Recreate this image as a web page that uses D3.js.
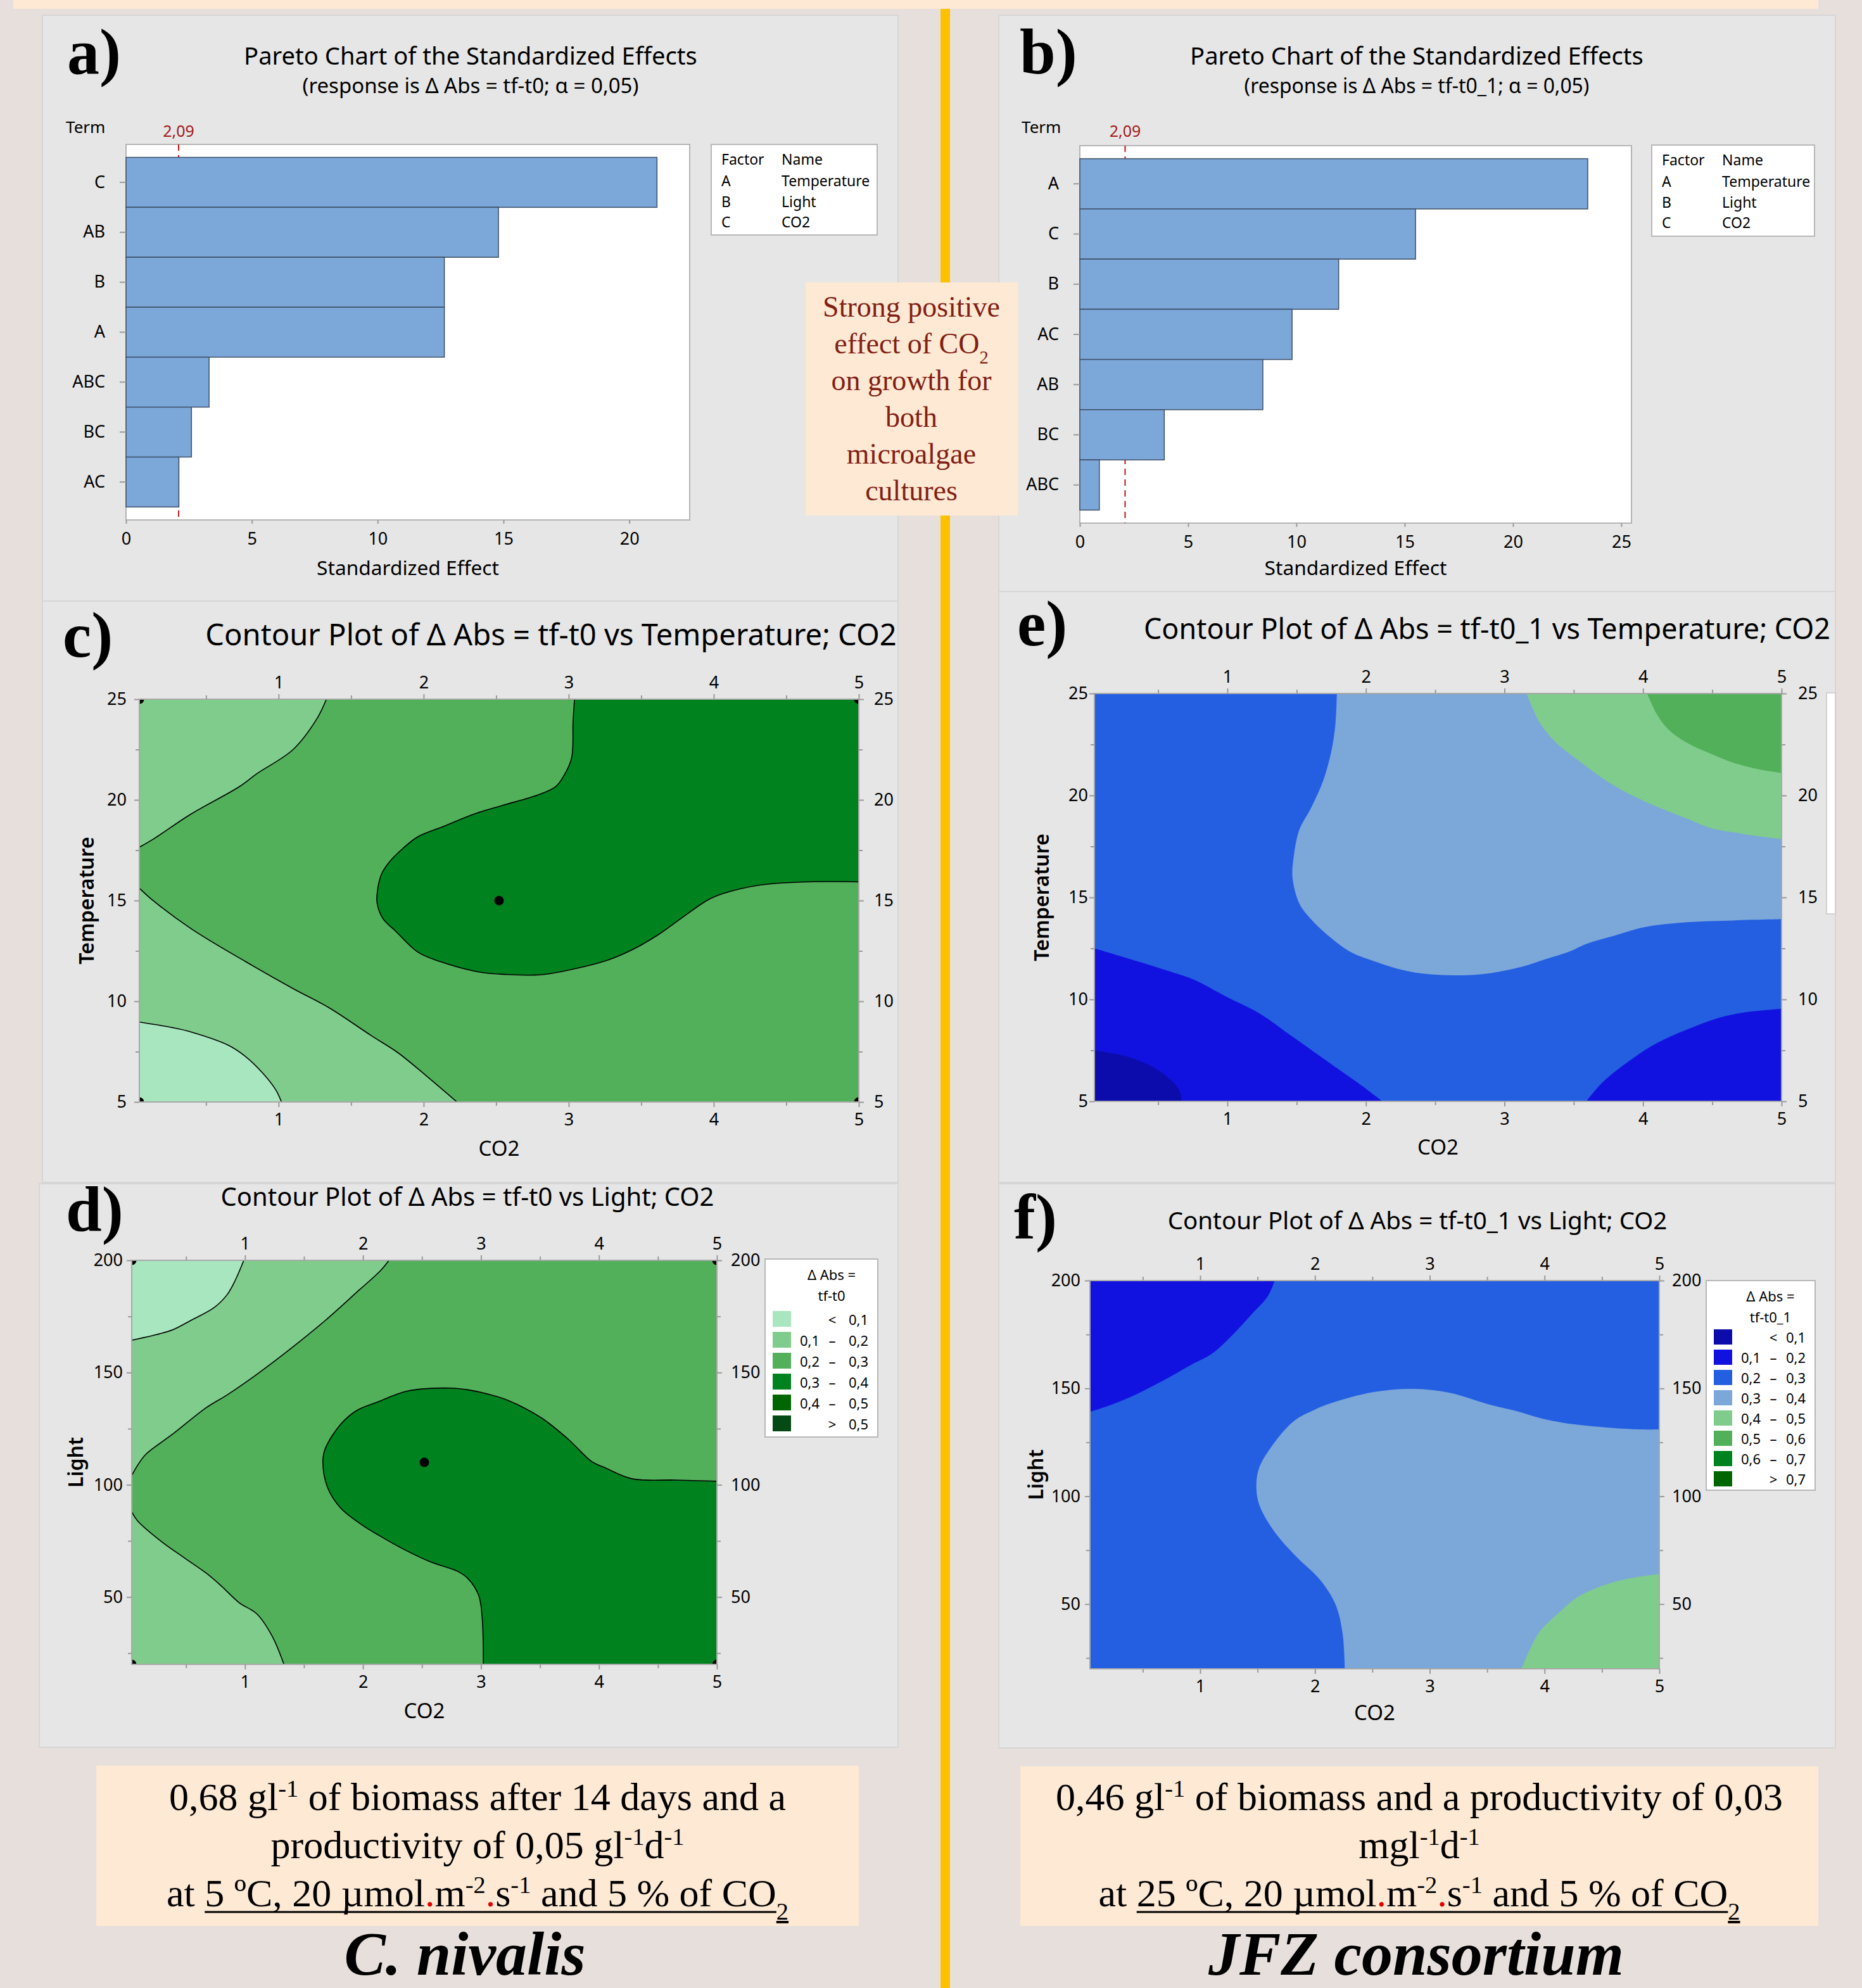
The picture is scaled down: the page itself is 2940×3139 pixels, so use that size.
<!DOCTYPE html>
<html>
<head>
<meta charset="utf-8">
<script src="https://cdn.jsdelivr.net/npm/d3@7"></script>
<style>
  body { margin: 0; background: #e7dfdc; }
  svg { display: block; }
</style>
</head>
<body>
<svg id="fig" width="2940" height="3139"></svg>
<script>
// ---------- data ----------
const critEffect = 2.09;
const factorCodes = ['A', 'B', 'C'];
const factorNames = ['Temperature', 'Light', 'CO2'];

// Pareto a) response tf-t0
const termsA = ['C', 'AB', 'B', 'A', 'ABC', 'BC', 'AC'];
const effectsA = [21.1, 14.8, 12.65, 12.65, 3.3, 2.6, 2.1];
const ticksA = [0, 5, 10, 15, 20];
// Pareto b) response tf-t0_1
const termsB = ['A', 'C', 'B', 'AC', 'AB', 'BC', 'ABC'];
const effectsB = [23.45, 15.5, 11.95, 9.8, 8.45, 3.9, 0.9];
const ticksB = [0, 5, 10, 15, 20, 25];

// contour axes
const co2Range = [0.04, 5];
const tempRange = [5, 25];
const lightRange = [20, 200];
const co2Ticks = [1, 2, 3, 4, 5];
const co2Minor = [0.5, 1.5, 2.5, 3.5, 4.5];
const tempTicks = [5, 10, 15, 20, 25];
const tempMinor = [7.5, 12.5, 17.5, 22.5];
const lightTicks = [50, 100, 150, 200];
const lightMinor = [25, 75, 125, 175];

// legend bins
const greenBins = [[null, 0.1], [0.1, 0.2], [0.2, 0.3], [0.3, 0.4], [0.4, 0.5], [0.5, null]];
const blueBins = [[null, 0.1], [0.1, 0.2], [0.2, 0.3], [0.3, 0.4], [0.4, 0.5], [0.5, 0.6], [0.6, 0.7], [0.7, null]];

// c) tf-t0 vs Temperature; CO2   points are [CO2, Temperature]
const cLine01 = [[0.04, 8.97], [0.27, 8.69], [0.40, 8.47], [0.65, 7.83], [0.77, 7.27], [0.89, 6.44], [0.98, 5.61], [1.02, 5]];
const cLine02Top = [[1.33, 25], [1.26, 23.98], [1.10, 22.5], [0.85, 21.3], [0.73, 20.66], [0.39, 19.27], [0.14, 18.07], [0.04, 17.65]];
const cLine02Bot = [[0.04, 15.62], [0.14, 14.97], [0.40, 13.59], [0.77, 11.98], [1.10, 10.63], [1.35, 9.67], [1.64, 8.29], [1.82, 7.46], [2.01, 6.35], [2.23, 5]];
const cLine03 = [[3.04, 25], [3.03, 23.89], [3.02, 22.08], [2.96, 21.12], [2.91, 20.66], [2.79, 20.25], [2.54, 19.72], [2.34, 19.28], [2.15, 18.72], [1.96, 18.17], [1.86, 17.61], [1.77, 16.97], [1.71, 16.32], [1.68, 15.4], [1.68, 14.84], [1.72, 14.1], [1.81, 13.46], [1.96, 12.44], [2.11, 11.98], [2.40, 11.43], [2.58, 11.33], [2.77, 11.3], [2.87, 11.37], [3.04, 11.61], [3.26, 12.02], [3.43, 12.53], [3.61, 13.27], [3.78, 14.14], [3.96, 15.03], [4.07, 15.36], [4.32, 15.77], [4.65, 15.93], [5, 15.93]];
const cPoints = [[0.04, 5], [0.04, 25], [5, 5], [5, 25], [2.52, 15]];

// e) tf-t0_1 vs Temperature; CO2
const eLine01 = [[0.04, 7.5], [0.29, 7.17], [0.51, 6.49], [0.65, 5.58], [0.67, 5]];
const eLine02Left = [[0.04, 12.5], [0.35, 11.87], [0.63, 11.27], [0.76, 10.96], [0.99, 10.14], [1.23, 9.32], [1.46, 8.22], [1.63, 7.4], [1.82, 6.49], [1.97, 5.77], [2.12, 5]];
const eLine02Right = [[3.59, 5], [3.71, 5.95], [3.95, 7.22], [4.10, 7.86], [4.31, 8.5], [4.52, 9.04], [4.69, 9.32], [5, 9.54]];
const eLine03 = [[1.79, 25], [1.78, 23.52], [1.75, 22.16], [1.69, 20.7], [1.60, 19.34], [1.52, 18.33], [1.48, 17.06], [1.47, 15.97], [1.52, 14.69], [1.60, 13.96], [1.71, 13.23], [1.89, 12.32], [2.06, 11.87], [2.23, 11.5], [2.40, 11.27], [2.57, 11.19], [2.74, 11.19], [2.91, 11.3], [3.12, 11.59], [3.29, 11.96], [3.46, 12.32], [3.59, 12.72], [3.80, 13.14], [4.01, 13.54], [4.31, 13.78], [4.65, 13.87], [5, 13.94]];
const eLine04 = [[3.16, 25], [3.25, 23.62], [3.37, 22.61], [3.59, 21.43], [3.76, 20.61], [3.93, 19.97], [4.14, 19.34], [4.31, 18.88], [4.48, 18.42], [4.69, 18.15], [4.86, 17.97], [5, 17.86]];
const eLine05 = [[4.03, 25], [4.10, 23.98], [4.18, 23.25], [4.31, 22.61], [4.48, 22.07], [4.65, 21.61], [4.86, 21.25], [5, 21.1]];

// d) tf-t0 vs Light; CO2   points are [CO2, Light]
const dLine01 = [[0.99, 200], [0.92, 191.4], [0.85, 184.8], [0.74, 179], [0.54, 173.2], [0.39, 169.1], [0.25, 166.9], [0.04, 164.4]];
const dLine02Top = [[2.22, 200], [2.15, 195.5], [1.96, 186.4], [1.68, 173.2], [1.41, 161.6], [1.10, 149.2], [0.85, 140.1], [0.67, 134.3], [0.39, 122.7], [0.16, 113.6], [0.09, 108.7], [0.04, 104.1]];
const dLine02Bot = [[0.04, 88], [0.09, 83.9], [0.27, 75.6], [0.49, 67.3], [0.67, 60.7], [0.80, 54.9], [0.95, 47.5], [1.10, 42.5], [1.23, 32.6], [1.33, 20]];
const dLine03 = [[3.02, 20], [3.01, 40.9], [2.98, 50.8], [2.89, 58.2], [2.80, 61.5], [2.57, 65.7], [2.37, 70.6], [2.17, 76.4], [1.99, 82.2], [1.81, 89.7], [1.70, 98.8], [1.66, 110.3], [1.68, 116.1], [1.81, 126.9], [1.95, 133.2], [2.12, 136.8], [2.38, 141.8], [2.75, 143.1], [2.88, 142.4], [3.08, 140.1], [3.23, 137.6], [3.51, 129.9], [3.74, 120.3], [3.94, 110.3], [4.04, 107.9], [4.28, 102.7], [4.65, 102.1], [5, 101.6]];
const dPoints = [[0.04, 20], [0.04, 200], [5, 20], [5, 200], [2.52, 110]];

// f) tf-t0_1 vs Light; CO2
const fLine02 = [[1.65, 200], [1.59, 192.8], [1.46, 185], [1.28, 174.7], [1.10, 166], [0.92, 160.9], [0.69, 154], [0.40, 146.2], [0.20, 141.9], [0.04, 139.1]];
const fLine03 = [[2.26, 20], [2.24, 36.7], [2.18, 49.7], [2.05, 60.9], [1.82, 72.9], [1.64, 84.1], [1.52, 95.3], [1.49, 103.1], [1.51, 112.6], [1.62, 122.9], [1.82, 135], [2.00, 140.2], [2.15, 143.3], [2.51, 148.3], [2.86, 149.8], [3.18, 147.9], [3.54, 142.2], [3.77, 139.3], [3.95, 136.4], [4.16, 134.1], [4.54, 131.9], [4.83, 131], [5, 131]];
const fLine04 = [[3.80, 20], [3.85, 26.4], [3.95, 36.7], [4.11, 45.3], [4.31, 54], [4.65, 60.9], [5, 63.9]];

// ---------- styles ----------
const SANS = "'Noto Sans', 'Open Sans', sans-serif";
const SERIF = "'Liberation Serif', 'DejaVu Serif', serif";
const greenColors = ['#a8e6bf', '#80cc8c', '#52b05b', '#00821e', '#006600', '#044a14'];
const blueColors = ['#0c0cad', '#1212e0', '#245fe1', '#7ca7d9', '#80cc8c', '#52b05b', '#00821e', '#006600'];
const PANEL = '#e6e6e6';
const PEACH = '#fde9d4';

const svg = d3.select('#fig');
const fmt = v => d3.format('.1f')(v).replace('.', ',');
const fmt2 = v => d3.format('.2f')(v).replace('.', ',');

function fitText(t, w) {
  const len = t.node().getComputedTextLength();
  t.attr('font-size', (+t.attr('font-size')) * w / len);
  return t;
}
function txt(g, x, y, s, size, opts = {}) {
  const t = g.append('text').attr('x', x).attr('y', y).text(s)
    .attr('font-size', size).attr('font-family', opts.family || SANS)
    .attr('fill', opts.fill || '#000').attr('text-anchor', opts.anchor || 'start');
  if (opts.weight) t.attr('font-weight', opts.weight);
  if (opts.style) t.attr('font-style', opts.style);
  if (opts.width) fitText(t, opts.width);
  return t;
}

// ---------- background layout ----------
svg.append('rect').attr('width', 2940).attr('height', 3139).attr('fill', '#e7dfdc');
svg.append('rect').attr('x', 1485).attr('y', 0).attr('width', 15).attr('height', 3139).attr('fill', '#ffc000');
svg.append('rect').attr('x', 21).attr('y', 0).attr('width', 2850).attr('height', 14).attr('fill', PEACH);
[[67, 24, 1351, 925], [67, 949, 1351, 918], [62, 1869, 1356, 890],
 [1577, 24, 1321, 910], [1577, 934, 1321, 933], [1577, 1869, 1321, 891]].forEach(p => {
  svg.append('rect').attr('x', p[0]).attr('y', p[1]).attr('width', p[2]).attr('height', p[3])
    .attr('fill', PANEL).attr('stroke', '#d6d6d6').attr('stroke-width', 2);
});

// panel letters
[['a)', 106, 116], ['b)', 1610, 116], ['c)', 99, 1037], ['e)', 1606, 1019], ['d)', 104, 1944], ['f)', 1601, 1956]]
  .forEach(l => txt(svg, l[1], l[2], l[0], 102, { family: SERIF, weight: 'bold' }));

// ---------- Pareto charts ----------
function pareto(o) {
  const g = svg.append('g');
  const x = d3.scaleLinear().domain([0, o.xMax]).range([o.x0, o.x1]);
  const y = d3.scaleBand().domain(o.terms).range([o.y0, o.y1]).paddingInner(0).paddingOuter(0.26);
  g.append('rect').attr('x', o.x0).attr('y', o.y0).attr('width', o.x1 - o.x0).attr('height', o.y1 - o.y0)
    .attr('fill', '#fff').attr('stroke', '#b4b4b4').attr('stroke-width', 2);
  g.append('line').attr('x1', x(critEffect)).attr('x2', x(critEffect)).attr('y1', o.y0).attr('y2', o.y1)
    .attr('stroke', '#c0161c').attr('stroke-width', 2).attr('stroke-dasharray', '10,7');
  g.selectAll('rect.bar').data(o.terms.map((t, i) => ({ t, v: o.effects[i] }))).join('rect').attr('class', 'bar')
    .attr('x', x(0)).attr('y', d => y(d.t)).attr('width', d => x(d.v) - x(0)).attr('height', y.bandwidth())
    .attr('fill', '#7ba7d9').attr('stroke', '#3e4f66').attr('stroke-width', 1.5);
  const ax = g.append('g').attr('transform', `translate(0,${o.y1})`)
    .call(d3.axisBottom(x).tickValues(o.ticks).tickSize(6).tickPadding(14));
  const ay = g.append('g').attr('transform', `translate(${o.x0},0)`)
    .call(d3.axisLeft(y).tickSize(10).tickPadding(23));
  [ax, ay].forEach(a => {
    a.select('.domain').remove();
    a.selectAll('line').attr('stroke', '#9a9a9a').attr('stroke-width', 2);
    a.selectAll('text').attr('font-size', 27).attr('font-family', SANS).attr('fill', '#000');
  });
  txt(g, o.termX, 210, 'Term', 26);
  txt(g, x(critEffect), 216, fmt2(critEffect), 25, { anchor: 'middle', fill: '#a31b1b' });
  txt(g, o.titleX, 102, 'Pareto Chart of the Standardized Effects', 40, { anchor: 'middle', width: 716 });
  txt(g, o.titleX, 147, o.subtitle, 32, { anchor: 'middle', width: o.subW });
  txt(g, (o.x0 + o.x1) / 2, 908, 'Standardized Effect', 34, { anchor: 'middle', width: 288 });
  // factor legend
  const L = o.legend;
  g.append('rect').attr('x', L[0]).attr('y', L[1]).attr('width', L[2]).attr('height', L[3])
    .attr('fill', '#fff').attr('stroke', '#b8b8b8').attr('stroke-width', 2);
  txt(g, L[0] + 16, L[1] + 32, 'Factor', 23);
  txt(g, L[0] + 111, L[1] + 32, 'Name', 23);
  factorCodes.forEach((c, i) => {
    txt(g, L[0] + 16, L[1] + 66 + i * 32.5, c, 23);
    txt(g, L[0] + 111, L[1] + 66 + i * 32.5, factorNames[i], 23);
  });
}
pareto({ terms: termsA, effects: effectsA, ticks: ticksA, xMax: 22.4, x0: 199, x1: 1089, y0: 228, y1: 821,
  termX: 104, titleX: 743, subtitle: '(response is \u0394 Abs = tf-t0; \u03b1 = 0,05)', subW: 531,
  legend: [1123, 228, 262, 143] });
pareto({ terms: termsB, effects: effectsB, ticks: ticksB, xMax: 25.47, x0: 1705, x1: 2576, y0: 230, y1: 826,
  termX: 1613, titleX: 2237, subtitle: '(response is \u0394 Abs = tf-t0_1; \u03b1 = 0,05)', subW: 545,
  legend: [2608, 229, 257, 144] });

// ---------- contour plots ----------
function contourPanel(o) {
  const g = svg.append('g');
  const x = d3.scaleLinear().domain(co2Range).range([o.x0, o.x1]);
  const y = d3.scaleLinear().domain(o.yRange).range([o.y1, o.y0]);
  const id = 'clip-' + o.key;
  svg.append('clipPath').attr('id', id).append('rect')
    .attr('x', o.x0).attr('y', o.y0).attr('width', o.x1 - o.x0).attr('height', o.y1 - o.y0);
  const p = g.append('g').attr('clip-path', `url(#${id})`);
  p.append('rect').attr('x', o.x0).attr('y', o.y0).attr('width', o.x1 - o.x0).attr('height', o.y1 - o.y0)
    .attr('fill', o.colors[o.base]);
  const line = d3.line().x(d => x(d[0])).y(d => y(d[1])).curve(d3.curveCatmullRom.alpha(0.5));
  o.regions.forEach(r => {
    p.append('path')
      .attr('d', line(r.pts) + r.corners.map(c => `L${x(c[0])},${y(c[1])}`).join('') + 'Z')
      .attr('fill', o.colors[r.lvl]);
  });
  if (o.lines) {
    o.regions.forEach(r => p.append('path').attr('d', line(r.pts))
      .attr('fill', 'none').attr('stroke', '#000').attr('stroke-width', 1.6));
  }
  if (o.points) {
    p.selectAll('circle').data(o.points).join('circle')
      .attr('cx', d => x(d[0])).attr('cy', d => y(d[1])).attr('r', 7.5).attr('fill', '#000');
  }
  g.append('rect').attr('x', o.x0).attr('y', o.y0).attr('width', o.x1 - o.x0).attr('height', o.y1 - o.y0)
    .attr('fill', 'none').attr('stroke', '#a8a8a8').attr('stroke-width', 2);

  const sides = [
    [d3.axisTop, x, co2Ticks, co2Minor, `translate(0,${o.y0})`, 9],
    [d3.axisBottom, x, co2Ticks, co2Minor, `translate(0,${o.y1})`, 10],
    [d3.axisLeft, y, o.yTicks, o.yMinor, `translate(${o.x0},0)`, o.padL],
    [d3.axisRight, y, o.yTicks, o.yMinor, `translate(${o.x1},0)`, o.padR]
  ];
  sides.forEach(s => {
    const a = g.append('g').attr('transform', s[4])
      .call(s[0](s[1]).tickValues(s[2]).tickFormat(d3.format('d')).tickSize(8).tickPadding(s[5]));
    const m = g.append('g').attr('transform', s[4])
      .call(s[0](s[1]).tickValues(s[3]).tickSize(6).tickFormat(''));
    [a, m].forEach(k => {
      k.select('.domain').remove();
      k.selectAll('line').attr('stroke', '#9a9a9a').attr('stroke-width', 2);
    });
    a.selectAll('text').attr('font-size', 27).attr('font-family', SANS).attr('fill', '#000');
  });
  txt(g, o.titleX, o.titleY, o.title, 42, { anchor: 'middle', width: o.titleW });
  txt(g, (o.x0 + o.x1) / 2, o.xLabY, 'CO2', 33, { anchor: 'middle' });
  txt(g, 0, 0, o.yLabel, 32, { anchor: 'middle', weight: 600 })
    .attr('transform', `translate(${o.yLabX},${(o.y0 + o.y1) / 2}) rotate(-90)`);
}

function contourLegend(o) {
  const g = svg.append('g');
  g.append('rect').attr('x', o.x).attr('y', o.y).attr('width', o.w).attr('height', o.h)
    .attr('fill', '#fff').attr('stroke', '#b8b8b8').attr('stroke-width', 2);
  const cx = o.x + o.w * 0.59;
  txt(g, cx, o.y + 33, '\u0394 Abs =', 22, { anchor: 'middle' });
  txt(g, cx, o.y + 66, o.resp, 22, { anchor: 'middle' });
  o.bins.forEach((b, i) => {
    const ty = o.rowTop + i * o.step;
    g.append('rect').attr('x', o.x + 12).attr('y', ty).attr('width', 29).attr('height', o.step - 8)
      .attr('fill', o.colors[i]);
    const by = ty + o.step * 0.66;
    if (b[0] === null) {
      txt(g, o.x + 106, by, '<', 22, { anchor: 'middle' });
    } else if (b[1] === null) {
      txt(g, o.x + 106, by, '>', 22, { anchor: 'middle' });
    } else {
      txt(g, o.x + 86, by, fmt(b[0]), 22, { anchor: 'end' });
      txt(g, o.x + 106, by, '\u2013', 22, { anchor: 'middle' });
    }
    txt(g, o.x + o.w - 15, by, fmt(b[1] === null ? b[0] : b[1]), 22, { anchor: 'end' });
  });
}

contourPanel({ key: 'c', x0: 220, x1: 1356, y0: 1104, y1: 1740, yRange: tempRange,
  yTicks: tempTicks, yMinor: tempMinor, padL: 12, padR: 16, colors: greenColors, base: 2, lines: true,
  regions: [
    { lvl: 1, pts: cLine02Top, corners: [[co2Range[0], tempRange[1]]] },
    { lvl: 1, pts: cLine02Bot, corners: [[co2Range[0], tempRange[0]]] },
    { lvl: 0, pts: cLine01, corners: [[co2Range[0], tempRange[0]]] },
    { lvl: 3, pts: cLine03, corners: [[co2Range[1], tempRange[1]]] }
  ],
  points: cPoints,
  title: 'Contour Plot of \u0394 Abs = tf-t0 vs Temperature; CO2', titleX: 870, titleY: 1019, titleW: 1092,
  xLabY: 1825, yLabel: 'Temperature', yLabX: 148 });

contourPanel({ key: 'e', x0: 1728, x1: 2813, y0: 1095, y1: 1739, yRange: tempRange,
  yTicks: tempTicks, yMinor: tempMinor, padL: 2, padR: 18, colors: blueColors, base: 2, lines: false,
  regions: [
    { lvl: 3, pts: eLine03, corners: [[co2Range[1], tempRange[1]]] },
    { lvl: 4, pts: eLine04, corners: [[co2Range[1], tempRange[1]]] },
    { lvl: 5, pts: eLine05, corners: [[co2Range[1], tempRange[1]]] },
    { lvl: 1, pts: eLine02Left, corners: [[co2Range[0], tempRange[0]]] },
    { lvl: 0, pts: eLine01, corners: [[co2Range[0], tempRange[0]]] },
    { lvl: 1, pts: eLine02Right, corners: [[co2Range[1], tempRange[0]]] }
  ],
  title: 'Contour Plot of \u0394 Abs = tf-t0_1 vs Temperature; CO2', titleX: 2348, titleY: 1009, titleW: 1084,
  xLabY: 1823, yLabel: 'Temperature', yLabX: 1656 });
svg.append('rect').attr('x', 2884).attr('y', 1094).attr('width', 14).attr('height', 349)
  .attr('fill', '#fff').attr('stroke', '#c8c8c8').attr('stroke-width', 1.5);

contourPanel({ key: 'd', x0: 208, x1: 1132, y0: 1990, y1: 2628, yRange: lightRange,
  yTicks: lightTicks, yMinor: lightMinor, padL: 6, padR: 14, colors: greenColors, base: 2, lines: true,
  regions: [
    { lvl: 1, pts: dLine02Top, corners: [[co2Range[0], lightRange[1]]] },
    { lvl: 0, pts: dLine01, corners: [[co2Range[0], lightRange[1]]] },
    { lvl: 1, pts: dLine02Bot, corners: [[co2Range[0], lightRange[0]]] },
    { lvl: 3, pts: dLine03, corners: [[co2Range[1], lightRange[0]]] }
  ],
  points: dPoints,
  title: 'Contour Plot of \u0394 Abs = tf-t0 vs Light; CO2', titleX: 738, titleY: 1904, titleW: 779,
  xLabY: 2713, yLabel: 'Light', yLabX: 131 });
contourLegend({ x: 1208, y: 1988, w: 178, h: 281, resp: 'tf-t0', bins: greenBins, colors: greenColors,
  rowTop: 2070, step: 33 });

contourPanel({ key: 'f', x0: 1721, x1: 2620, y0: 2022, y1: 2635, yRange: lightRange,
  yTicks: lightTicks, yMinor: lightMinor, padL: 7, padR: 12, colors: blueColors, base: 2, lines: false,
  regions: [
    { lvl: 1, pts: fLine02, corners: [[co2Range[0], lightRange[1]]] },
    { lvl: 3, pts: fLine03, corners: [[co2Range[1], lightRange[0]]] },
    { lvl: 4, pts: fLine04, corners: [[co2Range[1], lightRange[0]]] }
  ],
  title: 'Contour Plot of \u0394 Abs = tf-t0_1 vs Light; CO2', titleX: 2238, titleY: 1941, titleW: 789,
  xLabY: 2716, yLabel: 'Light', yLabX: 1647 });
contourLegend({ x: 2694, y: 2022, w: 172, h: 331, resp: 'tf-t0_1', bins: blueBins, colors: blueColors,
  rowTop: 2099, step: 32 });

// ---------- annotation boxes ----------
function richLine(g, x, y, size, segs, fill) {
  const t = g.append('text').attr('x', x).attr('y', y).attr('text-anchor', 'middle')
    .attr('font-family', SERIF).attr('font-size', size).attr('fill', fill || '#000');
  let idx = 0, uStart = -1, uEnd = -1;
  segs.forEach(s => {
    const sp = t.append('tspan').text(s.t);
    if (s.s) sp.attr('baseline-shift', s.s).attr('font-size', size * 0.62);
    if (s.red) sp.attr('fill', '#e00000');
    if (s.u && s.s === 'sub') sp.style('text-decoration', 'underline');
    else if (s.u) {
      if (uStart < 0) uStart = idx;
      uEnd = idx + s.t.length - 1;
    }
    idx += s.t.length;
  });
  if (uStart >= 0) {
    const n = t.node();
    const x1 = n.getStartPositionOfChar(uStart).x;
    const x2 = n.getEndPositionOfChar(uEnd).x;
    g.append('line').attr('x1', x1).attr('x2', x2).attr('y1', y + 9).attr('y2', y + 9)
      .attr('stroke', fill || '#000').attr('stroke-width', 3);
  }
  return t;
}
const RED = '#821f14';
svg.append('rect').attr('x', 1272).attr('y', 446).attr('width', 335).attr('height', 368).attr('fill', PEACH);
const strongLines = [[{ t: 'Strong positive' }], [{ t: 'effect of CO' }, { t: '2', s: 'sub' }], [{ t: 'on growth for' }],
  [{ t: 'both' }], [{ t: 'microalgae' }], [{ t: 'cultures' }]];
strongLines.forEach((l, i) => richLine(svg, 1439, 500 + i * 58, 46, l, RED));

svg.append('rect').attr('x', 152).attr('y', 2788).attr('width', 1204).attr('height', 253).attr('fill', PEACH);
svg.append('rect').attr('x', 1611).attr('y', 2789).attr('width', 1260).attr('height', 252).attr('fill', PEACH);

const leftLines = [
  [{ t: '0,68 gl' }, { t: '-1', s: 'super' }, { t: ' of biomass after 14 days and a' }],
  [{ t: 'productivity of 0,05 gl' }, { t: '-1', s: 'super' }, { t: 'd' }, { t: '-1', s: 'super' }],
  [{ t: 'at ' }, { t: '5 \u00baC, 20 \u00b5mol', u: 1 }, { t: '.', u: 1, red: 1 }, { t: 'm', u: 1 }, { t: '-2', s: 'super', u: 1 },
   { t: '.', u: 1, red: 1 }, { t: 's', u: 1 }, { t: '-1', s: 'super', u: 1 }, { t: ' and 5 % of CO', u: 1 }, { t: '2', s: 'sub', u: 1 }]
];
const rightLines = [
  [{ t: '0,46 gl' }, { t: '-1', s: 'super' }, { t: ' of biomass and a productivity of 0,03' }],
  [{ t: 'mgl' }, { t: '-1', s: 'super' }, { t: 'd' }, { t: '-1', s: 'super' }],
  [{ t: 'at ' }, { t: '25 \u00baC, 20 \u00b5mol', u: 1 }, { t: '.', u: 1, red: 1 }, { t: 'm', u: 1 }, { t: '-2', s: 'super', u: 1 },
   { t: '.', u: 1, red: 1 }, { t: 's', u: 1 }, { t: '-1', s: 'super', u: 1 }, { t: ' and 5 % of CO', u: 1 }, { t: '2', s: 'sub', u: 1 }]
];
leftLines.forEach((l, i) => richLine(svg, 754, 2858 + i * 76, 62, l));
rightLines.forEach((l, i) => richLine(svg, 2241, 2858 + i * 76, 62, l));

txt(svg, 734, 3118, 'C. nivalis', 98, { family: SERIF, weight: 'bold', style: 'italic', anchor: 'middle' });
txt(svg, 2236, 3118, 'JFZ consortium', 98, { family: SERIF, weight: 'bold', style: 'italic', anchor: 'middle' });
</script>
</body>
</html>
